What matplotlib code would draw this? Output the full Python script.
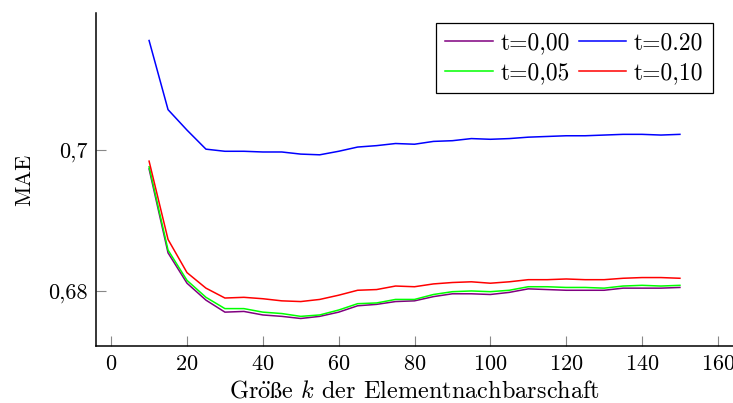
import matplotlib
matplotlib.use("Agg")
import matplotlib.pyplot as plt

plt.rcParams['font.family'] = ['cmr10', 'DejaVu Serif']
plt.rcParams['mathtext.fontset'] = 'cm'
plt.rcParams['axes.formatter.use_mathtext'] = True

# data
k = [10, 15, 20, 25, 30, 35, 40, 45, 50, 55, 60, 65, 70, 75, 80,
     85, 90, 95, 100, 105, 110, 115, 120, 125, 130, 135, 140, 145, 150]

mae_t000 = [0.6973, 0.6854, 0.6811, 0.6787, 0.6770, 0.6771, 0.6766, 0.6764, 0.6761, 0.6764,
            0.6770, 0.6779, 0.6781, 0.6785, 0.6786, 0.6792, 0.6796, 0.6796, 0.6795, 0.6798,
            0.6803, 0.6802, 0.6801, 0.6801, 0.6801, 0.6804, 0.6804, 0.6804, 0.6805]
mae_t005 = [0.6976, 0.6858, 0.6815, 0.6791, 0.6775, 0.6775, 0.6770, 0.6768, 0.6764, 0.6766,
            0.6773, 0.6782, 0.6783, 0.6788, 0.6788, 0.6795, 0.6799, 0.6800, 0.6799, 0.6801,
            0.6806, 0.6806, 0.6805, 0.6805, 0.6804, 0.6807, 0.6808, 0.6807, 0.6808]
mae_t010 = [0.6984, 0.6873, 0.6826, 0.6804, 0.6790, 0.6791, 0.6789, 0.6786, 0.6785, 0.6788,
            0.6794, 0.6801, 0.6802, 0.6807, 0.6806, 0.6810, 0.6812, 0.6813, 0.6811, 0.6813,
            0.6816, 0.6816, 0.6817, 0.6816, 0.6816, 0.6818, 0.6819, 0.6819, 0.6818]
mae_t020 = [0.7155, 0.7057, 0.7028, 0.7001, 0.6998, 0.6998, 0.6997, 0.6997, 0.6994, 0.6993,
            0.6998, 0.7004, 0.7006, 0.7009, 0.7008, 0.7012, 0.7013, 0.7016, 0.7015, 0.7016,
            0.7018, 0.7019, 0.7020, 0.7020, 0.7021, 0.7022, 0.7022, 0.7021, 0.7022]

xticks = [0, 20, 40, 60, 80, 100, 120, 140, 160]
yticks = [0.68, 0.70]
ytick_labels = ['0,68', '0,7']

fig = plt.figure(figsize=(7.33, 4.03), dpi=100)
ax = fig.add_axes([96 / 733, 1 - 346 / 403, 1 - 96 / 733, 333 / 403])

lw = 1.1
l0, = ax.plot(k, mae_t000, color='#800080', lw=lw, label='t=0,00')
l5, = ax.plot(k, mae_t005, color='#00ff00', lw=lw, label='t=0,05')
l20, = ax.plot(k, mae_t020, color='#0000ff', lw=lw, label='t=0.20')
l10, = ax.plot(k, mae_t010, color='#ff0000', lw=lw, label='t=0,10')

ax.set_xlim(-4, 164)
ax.set_ylim(0.6722, 0.7194)

ax.set_xticks(xticks)
ax.set_yticks(yticks)
ax.set_yticklabels(ytick_labels)
ax.tick_params(direction='in', length=7.5, width=0.8, color='#888888',
               labelsize=16, pad=6)

for s in ['top', 'right']:
    ax.spines[s].set_visible(False)
for s in ['left', 'bottom']:
    ax.spines[s].set_linewidth(1.1)

# cmr10 has no ö/ß, so build them in mathtext
ax.set_xlabel(r'$\mathrm{Gr\ddot{o}ße}$ $k$ der Elementnachbarschaft',
              fontsize=17.5, labelpad=5)
ax.set_ylabel('MAE', fontsize=16, labelpad=10)

leg = ax.legend(handles=[l0, l5, l20, l10], ncol=2, loc='upper right',
                bbox_to_anchor=(0.9686, 0.970), borderaxespad=0, fontsize=17,
                fancybox=False, framealpha=1, edgecolor='black',
                handlelength=2.0, handletextpad=0.35, columnspacing=0.35,
                borderpad=0.4, labelspacing=0.3)
leg.get_frame().set_linewidth(0.9)

fig.savefig('out.png', dpi=100)
